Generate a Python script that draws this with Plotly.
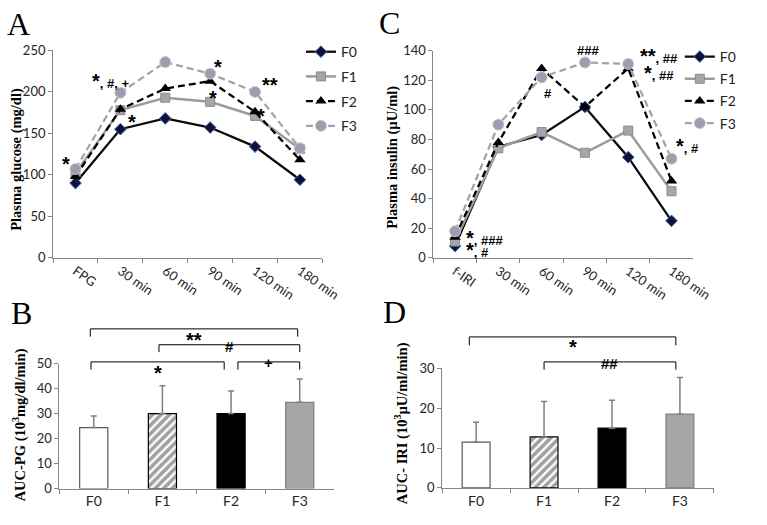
import plotly.graph_objects as go

# ---------------- data ----------------
groups = ["F0", "F1", "F2", "F3"]
glucose_times = ["FPG", "30 min", "60 min", "90 min", "120 min", "180 min"]
insulin_times = ["f-IRI", "30 min", "60 min", "90 min", "120 min", "180 min"]

glucose_F0 = [90, 155, 168, 157, 134, 94]
glucose_F1 = [102, 178, 193, 188, 171, 131]
glucose_F2 = [98, 179, 204, 213, 176, 118]
glucose_F3 = [107, 199, 236, 222, 200, 132]

insulin_F0 = [8, 75, 83, 102, 68, 25]
insulin_F1 = [11, 74, 85, 71, 86, 45]
insulin_F2 = [14, 78, 128, 102, 128, 52]
insulin_F3 = [18, 90, 122, 132, 131, 67]

auc_pg = [24.4, 30.0, 30.0, 34.5]
auc_pg_sd = [4.6, 11.1, 9.0, 9.3]
auc_iri = [11.5, 12.8, 15.0, 18.5]
auc_iri_sd = [5.0, 8.9, 7.0, 9.2]

W, H = 767, 525
AX = "#868686"
TICKFONT = dict(family="Lato, Open Sans, sans-serif", size=13, color="#262626")
SIGFONT = dict(family="Liberation Sans, Arial, sans-serif", size=13, color="#000")


def sig(t):
    return "<b>" + t.replace("*", '<span style="font-size:20px">*</span>') + "</b>"


styles = {
    "F0": dict(line=dict(color="#0a0a0a", width=2.25),
               marker=dict(symbol="diamond", size=9, color="#10103a", line=dict(color="#3b6fb0", width=1))),
    "F1": dict(line=dict(color="#9c9c9c", width=2.5),
               marker=dict(symbol="square", size=9, color="#a6a6a6", line=dict(color="#8c8c8c", width=1))),
    "F2": dict(line=dict(color="#000000", width=2.25, dash="7px,4px"),
               marker=dict(symbol="triangle-up", size=10, color="#000000")),
    "F3": dict(line=dict(color="#a3a3a8", width=2.25, dash="7px,4px"),
               marker=dict(symbol="circle", size=11, color="#9f9cae", line=dict(color="#c9c8d2", width=1))),
}

fig = go.Figure()

gl = dict(F0=glucose_F0, F1=glucose_F1, F2=glucose_F2, F3=glucose_F3)
ins = dict(F0=insulin_F0, F1=insulin_F1, F2=insulin_F2, F3=insulin_F3)
for g in groups:
    fig.add_trace(go.Scatter(x=glucose_times, y=gl[g], name=g, mode="lines+markers",
                             xaxis="x", yaxis="y", legend="legend", legendgroup="a" + g,
                             **styles[g]))
for g in groups:
    fig.add_trace(go.Scatter(x=insulin_times, y=ins[g], name=g, mode="lines+markers",
                             xaxis="x2", yaxis="y2", legend="legend2", legendgroup="c" + g,
                             **styles[g]))

bar_fill = ["#ffffff", "#ffffff", "#000000", "#a6a6a6"]
bar_line = ["#595959", "#000000", "#000000", "#7f7f7f"]
pattern = dict(shape=["", "/", "", ""], fgcolor="#000000", bgcolor="#ffffff", size=6, solidity=0.6)

for xa, ya, vals, sd in (("x3", "y3", auc_pg, auc_pg_sd), ("x4", "y4", auc_iri, auc_iri_sd)):
    fig.add_trace(go.Bar(x=groups, y=vals, xaxis=xa, yaxis=ya, showlegend=False, width=0.41,
                         marker=dict(color=bar_fill, line=dict(color=bar_line, width=1.2), pattern=pattern),
                         error_y=dict(type="data", array=sd, arrayminus=[0] * 4, symmetric=False,
                                      color="#7f7f7f", thickness=1.5, width=3)))


def xd(a, b):
    return [a / W, b / W]


def yd(top, bottom):
    return [1 - bottom / H, 1 - top / H]


axis_common = dict(showgrid=False, zeroline=False, showline=True, linecolor=AX, linewidth=1,
                   ticks="outside", ticklen=4, tickcolor=AX, tickfont=TICKFONT)

fig.update_layout(
    width=W, height=H, margin=dict(l=0, r=0, t=0, b=0),
    plot_bgcolor="white", paper_bgcolor="white",
    font=dict(family="Lato, Open Sans, sans-serif", color="#222"),
    xaxis=dict(domain=xd(54.5, 331), anchor="y", type="category", range=[-0.5, 5.5],
               tickson="boundaries", tickangle=35, **axis_common),
    yaxis=dict(domain=yd(43.8, 257.5), anchor="x", range=[0, 250], dtick=50, **axis_common),
    xaxis2=dict(domain=xd(445, 711.7), anchor="y2", type="category", range=[-0.5, 5.5],
                tickson="boundaries", tickangle=35, **axis_common),
    yaxis2=dict(domain=yd(44, 257.7), anchor="x2", range=[0, 140], dtick=20, **axis_common),
    xaxis3=dict(domain=xd(61, 343), anchor="y3", type="category", range=[-0.5, 3.5],
                tickson="boundaries", **{**axis_common, "tickfont": dict(TICKFONT, size=14)}),
    yaxis3=dict(domain=yd(366.7, 495.7), anchor="x3", range=[0, 50], dtick=10, **axis_common),
    xaxis4=dict(domain=xd(454, 733), anchor="y4", type="category", range=[-0.5, 3.5],
                tickson="boundaries", **{**axis_common, "tickfont": dict(TICKFONT, size=14)}),
    yaxis4=dict(domain=yd(371.7, 495), anchor="x4", range=[0, 30], dtick=10, **axis_common),
    legend=dict(x=309 / W, y=1 - 29 / H, xanchor="left", yanchor="top", tracegroupgap=3.5,
                font=dict(family="Lato, Open Sans, sans-serif", size=14, color="#222"),
                bgcolor="rgba(0,0,0,0)"),
    legend2=dict(x=698 / W, y=1 - 34 / H, xanchor="left", yanchor="top", tracegroupgap=1,
                 font=dict(family="Lato, Open Sans, sans-serif", size=14, color="#222"),
                 bgcolor="rgba(0,0,0,0)"),
    barmode="group",
)

ann = []
# panel letters
for letter, px, py in (("A", 19, 17), ("C", 400, 15), ("B", 22, 315), ("D", 405, 314)):
    ann.append(dict(text=letter, x=px / W, y=1 - py / H, xref="paper", yref="paper", showarrow=False,
                    xanchor="center", yanchor="middle",
                    font=dict(family="Liberation Serif, Times New Roman, serif", size=32, color="#000")))
# y-axis titles
for txt, px, py in (("Plasma glucose (mg/dl)", 17, 156), ("Plasma insulin (\u00b5U/ml)", 403, 154),
                    ("AUC-PG (10<sup>3</sup>mg/dl/min)", 20, 430),
                    ("AUC- IRI (10<sup>3</sup>\u00b5U/ml/min)", 413, 428)):
    ann.append(dict(text="<b>" + txt + "</b>", x=px / W, y=1 - py / H, xref="paper", yref="paper",
                    showarrow=False, textangle=-90, xanchor="center", yanchor="middle",
                    font=dict(family="Liberation Serif, Times New Roman, serif", size=14.5, color="#000")))


def shift(t):
    if set(t) == {"*"}:
        return -6
    return -2 if "*" in t else 0


# significance marks on line charts: (text, category index, data value, anchor)
sig_a = [("*", -0.22, 120, "center"), ("*, #, +", 0.78, 215, "center"), ("**, ###, +", 2.17, 253, "center"),
         ("*", 3.17, 237, "center"), ("*", 3.06, 200, "center"), ("**", 4.34, 216, "center"),
         ("*", 4.14, 178, "center"), ("*", 1.26, 171, "center")]
for t, x, y, xa in sig_a:
    ann.append(dict(text=sig(t), x=x, y=y, xref="x", yref="y", showarrow=False, font=SIGFONT,
                    xanchor=xa, yshift=shift(t)))
sig_c = [("*, ###", 0.21, 14.5, "left"), ("*, #", 0.21, 6.5, "left"), ("#", 2.14, 111, "center"),
         ("###", 3.08, 140, "center"), ("**, ##", 4.22, 137.5, "left"), ("*, ##", 4.31, 126.5, "left"),
         ("*, #", 5.05, 77, "left")]
for t, x, y, xa in sig_c:
    ann.append(dict(text=sig(t), x=x, y=y, xref="x2", yref="y2", showarrow=False, font=SIGFONT,
                    xanchor=xa, yshift=shift(t)))

shapes = []
# brackets: (xref, yref, x_start, x_end, y_bar, y_foot, label, y_label)
brackets = [
    ("x3", "y3 domain", -0.05, 2.97, 1.277, 1.215, "**", 1.34),
    ("x3", "y3 domain", 0.95, 3.0, 1.150, 1.091, "#", 1.22),
    ("x3", "y3 domain", -0.04, 1.9, 1.013, 0.951, "*", 1.08),
    ("x3", "y3 domain", 2.1, 3.0, 1.013, 0.951, "+", 1.09),
    ("x4", "y4 domain", -0.1, 2.94, 1.263, 1.192, "*", 1.34),
    ("x4", "y4 domain", 1.0, 2.94, 1.054, 0.989, "##", 1.127),
]
for xr, yr, x0, x1, yb, yf, lab, yl in brackets:
    lc = dict(color="#000", width=1)
    shapes.append(dict(type="line", xref=xr, yref=yr, x0=x0, x1=x1, y0=yb, y1=yb, line=lc))
    shapes.append(dict(type="line", xref=xr, yref=yr, x0=x0, x1=x0, y0=yb, y1=yf, line=lc))
    shapes.append(dict(type="line", xref=xr, yref=yr, x0=x1, x1=x1, y0=yb, y1=yf, line=lc))
    ann.append(dict(text=sig(lab), x=(x0 + x1) / 2, y=yl, xref=xr, yref=yr, showarrow=False,
                    font=dict(SIGFONT, size=15), yshift=shift(lab)))

fig.update_layout(annotations=ann, shapes=shapes)
fig.write_html("out.html", config={"displayModeBar": False},
               post_script="document.body.style.margin='0';document.body.style.overflow='hidden';")
